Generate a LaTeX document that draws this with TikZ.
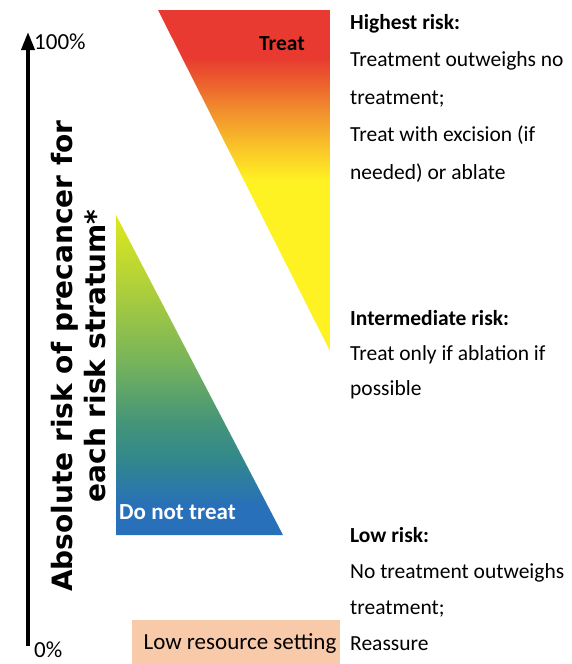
\documentclass[tikz,border=0pt]{standalone}
\usepackage{fontspec}
\setmainfont{Carlito}
\newfontfamily\axisfont{DejaVu Sans}
\usetikzlibrary{arrows.meta}
\definecolor{tred}{RGB}{232,58,48}
\definecolor{tdorange}{RGB}{236,100,45}
\definecolor{torange}{RGB}{242,145,45}
\definecolor{tlorange}{RGB}{250,200,40}
\definecolor{tyellow}{RGB}{255,242,35}
\definecolor{byellow}{RGB}{222,232,30}
\definecolor{bygreen}{RGB}{180,210,55}
\definecolor{bgreen}{RGB}{120,180,90}
\definecolor{btgreen}{RGB}{70,150,120}
\definecolor{bteal}{RGB}{50,135,140}
\definecolor{bblue}{RGB}{40,112,185}
\definecolor{peach}{RGB}{248,202,170}
% shaded path maps to 25bp..75bp of the declared shading
\pgfdeclareverticalshading{treatshade}{100bp}{color(0bp)=(tyellow); color(50bp)=(tyellow); color(54.5bp)=(tlorange); color(60bp)=(torange); color(64bp)=(tdorange); color(68bp)=(tred); color(100bp)=(tred)}
\pgfdeclareverticalshading{notreatshade}{100bp}{color(0bp)=(bblue); color(29.7bp)=(bblue); color(36.7bp)=(bteal); color(43bp)=(btgreen); color(52.3bp)=(bgreen); color(64.8bp)=(bygreen); color(75bp)=(byellow); color(100bp)=(byellow)}
\tikzset{
  desc/.style={anchor=base west, align=left, inner sep=0pt},
  axislab/.style={font=\axisfont\bfseries\fontsize{28}{33}\selectfont, align=center, rotate=90, inner sep=0pt},
  pct/.style={font=\fontsize{23}{26}\selectfont, inner sep=0pt, anchor=west}
}
\begin{document}
\begin{tikzpicture}[x=1pt,y=-1pt]
\useasboundingbox (0,0) rectangle (572,664);
% triangles
\shade[shading=treatshade] (158,10) -- (330,10) -- (330,351) -- cycle;
\shade[shading=notreatshade] (116,215) -- (116,535) -- (283,535) -- cycle;
\node[font=\bfseries\fontsize{21.5}{24}\selectfont, text=black] (treat) at (282,44) {Treat};
\node[font=\bfseries\fontsize{23}{26}\selectfont, text=white, anchor=west, inner sep=0pt] (nottreat) at (119,512) {Do not treat};
% axis
\coordinate (ybot) at (28,646);
\coordinate (ytop) at (28,32);
\draw[line width=3.8pt, -{Triangle[width=13pt,length=18pt]}] (ybot) -- (ytop);
\node[pct] (p100) at (34,42) {100\%};
\node[pct] (p0) at (34,650) {0\%};
\node[axislab] (axis) at (79,356) {Absolute risk of precancer for\\each risk stratum*};
% low resource box
\node[fill=peach, minimum width=208pt, minimum height=46pt, inner sep=0pt, anchor=north west] (lrs) at (132,620) {};
\node[font=\fontsize{23}{26}\selectfont, inner sep=0pt] (lrstext) at (240,644) {Low resource setting};
% descriptions (anchor at baseline of last line)
\node[desc, font=\fontsize{21.5}{37.5}\selectfont] (high) at (350,179) {\textbf{Highest risk:}\\Treatment outweighs no\\treatment;\\Treat with excision (if\\needed) or ablate};
\node[desc, font=\fontsize{21.5}{35}\selectfont] (mid) at (350,395) {\textbf{Intermediate risk:}\\Treat only if ablation if\\possible};
\node[desc, font=\fontsize{21.5}{36}\selectfont] (low) at (350,650) {\textbf{Low risk:}\\No treatment outweighs\\treatment;\\Reassure};
\end{tikzpicture}
\end{document}
